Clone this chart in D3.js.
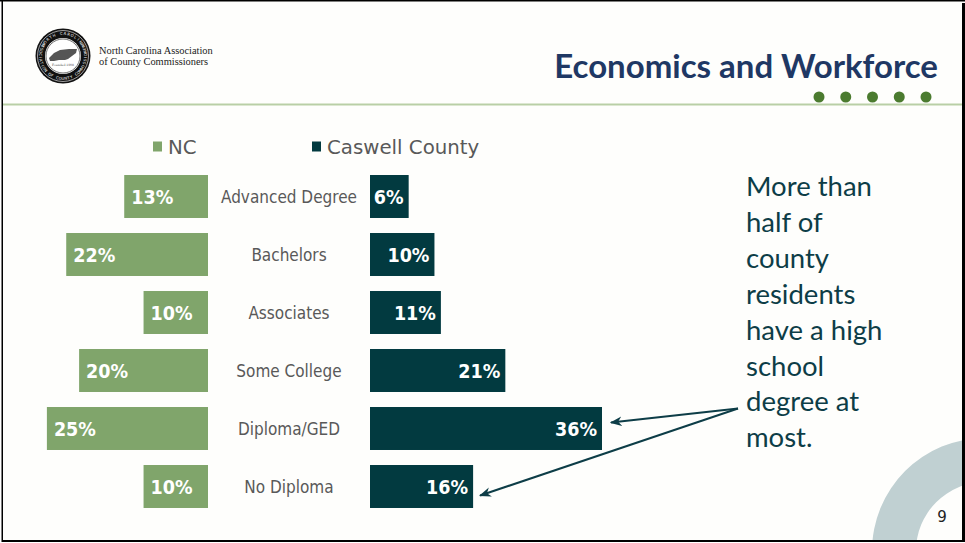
<!DOCTYPE html>
<html>
<head>
<meta charset="utf-8">
<script src="https://cdn.jsdelivr.net/npm/d3@7/dist/d3.min.js"></script>
<style>
  html, body { margin: 0; padding: 0; background: #ffffff; }
  svg { display: block; }
</style>
</head>
<body>
<svg id="slide" width="965" height="543"></svg>
<script>
// Educational attainment, share of adults 25+
const categories = ["Advanced Degree", "Bachelors", "Associates", "Some College", "Diploma/GED", "No Diploma"];
const ncValues = [13, 22, 10, 20, 25, 10];
const caswellValues = [6, 10, 11, 21, 36, 16];
const seriesNames = ["NC", "Caswell County"];
const seriesColors = ["#80a56b", "#023a40"];
const noteLines = ["More than", "half of", "county", "residents", "have a high", "school", "degree at", "most."];

const svg = d3.select("#slide");
const W = 965, H = 543;
const defs = svg.append("defs");

// slide background
svg.append("rect").attr("x", 0).attr("y", 0).attr("width", W).attr("height", H).attr("fill", "#ffffff");
svg.append("rect").attr("x", 2).attr("y", 1).attr("width", 961).attr("height", 540).attr("fill", "#fefefc");

// decorative ring, bottom right, clipped to the slide
defs.append("clipPath").attr("id", "slideClip")
  .append("rect").attr("x", 2).attr("y", 1).attr("width", 961).attr("height", 540);
svg.append("g").attr("clip-path", "url(#slideClip)")
  .append("path")
  .attr("transform", "translate(985,551)")
  .attr("d", d3.arc()({innerRadius: 69, outerRadius: 113, startAngle: 0, endAngle: 2 * Math.PI}))
  .attr("fill", "#c0d0d2");
svg.append("text").attr("x", 942).attr("y", 522).attr("text-anchor", "middle")
  .attr("font-family", "DejaVu Sans, sans-serif").attr("font-size", 15).attr("fill", "#222")
  .text("9");

// header rule and dots
svg.append("line").attr("x1", 3).attr("x2", 962).attr("y1", 104.5).attr("y2", 104.5)
  .attr("stroke", "#b9cfa6").attr("stroke-width", 2);
const dotX = d3.scalePoint().domain(d3.range(5)).range([819, 926]);
svg.selectAll("circle.hdot").data(d3.range(5)).join("circle")
  .attr("class", "hdot").attr("cx", d => dotX(d)).attr("cy", 97).attr("r", 5.5)
  .attr("fill", "#4b7b2f");

// title
svg.append("text").attr("x", 938).attr("y", 78).attr("text-anchor", "end")
  .attr("font-family", "Lato, 'Open Sans', sans-serif").attr("font-weight", 700)
  .attr("font-size", 33).attr("fill", "#1f3864")
  .text("Economics and Workforce");

// association seal
const seal = svg.append("g").attr("transform", "translate(63,56)");
seal.append("circle").attr("r", 27.5).attr("fill", "#111");
seal.append("circle").attr("r", 25.5).attr("fill", "none").attr("stroke", "#fff").attr("stroke-width", 0.6);
seal.append("circle").attr("r", 18).attr("fill", "#fff");
seal.append("circle").attr("r", 17).attr("fill", "none").attr("stroke", "#111").attr("stroke-width", 0.6);
seal.append("path")
  .attr("d", "M-14,2 L-9,-3 L-3,-6 L6,-7 L14,-7 L13,-3 L9,0 L5,3 L2,4 L-4,4 L-9,5 L-13,5 Z")
  .attr("fill", "#555");

// ring lettering, one glyph at a time around the seal
function ringText(str, radius, centerDeg, stepDeg, bottom) {
  const chars = str.split("");
  const n = chars.length;
  chars.forEach((ch, i) => {
    if (ch === " ") return;
    const off = (i - (n - 1) / 2) * stepDeg;
    const deg = bottom ? centerDeg - off : centerDeg + off;
    const rad = (deg - 90) * Math.PI / 180;
    const px = radius * Math.cos(rad), py = radius * Math.sin(rad);
    const rot = bottom ? deg + 180 : deg;
    seal.append("text")
      .attr("transform", `translate(${px.toFixed(2)},${py.toFixed(2)}) rotate(${rot.toFixed(1)})`)
      .attr("text-anchor", "middle").attr("dy", "0.35em")
      .attr("font-family", "DejaVu Sans, sans-serif").attr("font-size", 3.8).attr("fill", "#fff")
      .text(ch);
  });
}
ringText("NORTH CAROLINA", 22.5, 0, 9.5, false);
ringText("ASSOCIATION OF COUNTY COMMISSIONERS", 22.5, 180, 7.2, true);
seal.append("text").attr("y", 10).attr("text-anchor", "middle")
  .attr("font-family", "DejaVu Serif, serif").attr("font-size", 3).attr("fill", "#444")
  .text("Founded 1908");

svg.append("text").attr("x", 99).attr("y", 54)
  .attr("font-family", "Liberation Serif, serif").attr("font-size", 10.4).attr("fill", "#222")
  .text("North Carolina Association");
svg.append("text").attr("x", 99).attr("y", 64.5)
  .attr("font-family", "Liberation Serif, serif").attr("font-size", 10.4).attr("fill", "#222")
  .text("of County Commissioners");

// scales
const x = d3.scaleLinear().domain([0, 36]).range([0, 232]);
const y = d3.scaleBand().domain(categories).range([167.5, 515.5])
  .paddingInner(0.259).paddingOuter(0.1295);
const ncBase = 208, cwBase = 370, labelX = 289;

// legend
const legendX = [153, 312];
seriesNames.forEach((name, i) => {
  svg.append("rect").attr("x", legendX[i]).attr("y", 141.5).attr("width", 9).attr("height", 10)
    .attr("fill", seriesColors[i]);
  svg.append("text").attr("x", legendX[i] + 15).attr("y", 154)
    .attr("font-family", "DejaVu Sans, sans-serif").attr("font-size", 19.8).attr("fill", "#595959")
    .text(name);
});

const rows = categories.map((c, i) => ({cat: c, nc: ncValues[i], cw: caswellValues[i]}));
const valueFont = "DejaVu Sans Condensed, DejaVu Sans, sans-serif";

// NC bars grow leftward
svg.selectAll("rect.nc").data(rows).join("rect").attr("class", "nc")
  .attr("x", d => ncBase - x(d.nc)).attr("y", d => y(d.cat))
  .attr("width", d => x(d.nc)).attr("height", y.bandwidth())
  .attr("fill", seriesColors[0]);
svg.selectAll("text.ncv").data(rows).join("text").attr("class", "ncv")
  .attr("x", d => ncBase - x(d.nc) + 7).attr("y", d => y(d.cat) + y.bandwidth() / 2)
  .attr("dy", "0.36em")
  .attr("font-family", valueFont).attr("font-stretch", "condensed")
  .attr("font-weight", 700).attr("font-size", 19.5).attr("fill", "#fff")
  .text(d => d.nc + "%");

// Caswell bars grow rightward
svg.selectAll("rect.cw").data(rows).join("rect").attr("class", "cw")
  .attr("x", cwBase).attr("y", d => y(d.cat))
  .attr("width", d => x(d.cw)).attr("height", y.bandwidth())
  .attr("fill", seriesColors[1]);
svg.selectAll("text.cwv").data(rows).join("text").attr("class", "cwv")
  .attr("x", d => cwBase + x(d.cw) - 5).attr("y", d => y(d.cat) + y.bandwidth() / 2)
  .attr("dy", "0.36em").attr("text-anchor", "end")
  .attr("font-family", valueFont).attr("font-stretch", "condensed")
  .attr("font-weight", 700).attr("font-size", 19.5).attr("fill", "#fff")
  .text(d => d.cw + "%");

// category labels between the two sides
svg.selectAll("text.cat").data(rows).join("text").attr("class", "cat")
  .attr("x", labelX).attr("y", d => y(d.cat) + y.bandwidth() / 2)
  .attr("dy", "0.36em").attr("text-anchor", "middle")
  .attr("font-family", valueFont).attr("font-stretch", "condensed")
  .attr("font-size", 17).attr("fill", "#595959")
  .text(d => d.cat);

// callout note
const note = svg.append("text")
  .attr("font-family", "Lato, 'Open Sans', sans-serif").attr("font-size", 27.5).attr("fill", "#0d3d47");
noteLines.forEach((line, i) => {
  note.append("tspan").attr("x", 746).attr("y", 196 + i * 35.9).text(line);
});

// arrows from the note to the two lowest-attainment Caswell bars
defs.append("marker").attr("id", "arrowHead").attr("viewBox", "0 0 10 10")
  .attr("refX", 9).attr("refY", 5).attr("markerWidth", 6).attr("markerHeight", 6)
  .attr("markerUnits", "strokeWidth").attr("orient", "auto")
  .append("path").attr("d", "M0,1 L10,5 L0,9 L3,5 Z").attr("fill", "#0d3d47");
const origin = [738, 408.5];
const targets = [
  [cwBase + x(36) + 9, y("Diploma/GED") + y.bandwidth() / 2 - 6],
  [cwBase + x(16) + 7, y("No Diploma") + y.bandwidth() / 2 + 9]
];
svg.selectAll("line.arrow").data(targets).join("line").attr("class", "arrow")
  .attr("x1", origin[0]).attr("y1", origin[1])
  .attr("x2", d => d[0]).attr("y2", d => d[1])
  .attr("stroke", "#0d3d47").attr("stroke-width", 2)
  .attr("marker-end", "url(#arrowHead)");

// frame edges
svg.append("rect").attr("x", 0).attr("y", 0).attr("width", W).attr("height", 1.5).attr("fill", "#000");
svg.append("rect").attr("x", 1.5).attr("y", 0).attr("width", 1.5).attr("height", 542).attr("fill", "#000");
svg.append("rect").attr("x", 3).attr("y", 540).attr("width", 962).attr("height", 2).attr("fill", "#000");
svg.append("rect").attr("x", 962).attr("y", 3).attr("width", 3).attr("height", 539).attr("fill", "#000");
</script>
</body>
</html>
